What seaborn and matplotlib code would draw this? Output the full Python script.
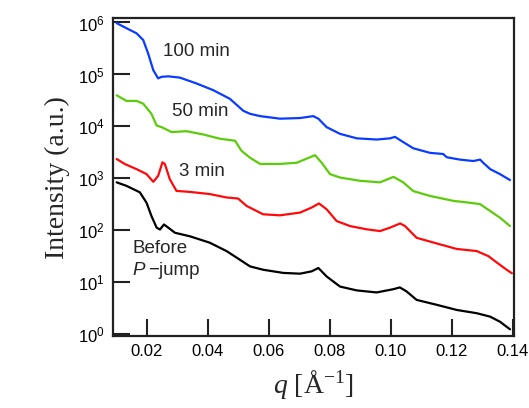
import numpy as np
import pandas as pd
import seaborn as sns
import matplotlib.pyplot as plt
from matplotlib.ticker import LogLocator, FixedLocator, FuncFormatter

# data (q in 1/A, intensity in a.u.)
q_100 = [0.0102, 0.0145, 0.0167, 0.0189, 0.0205, 0.0222, 0.0238, 0.0249, 0.0271, 0.0309,
         0.0364, 0.0418, 0.0473, 0.0517, 0.0539, 0.0572, 0.0637, 0.0703, 0.0746, 0.0763,
         0.0790, 0.0834, 0.0889, 0.0954, 0.0998, 0.1014, 0.1041, 0.1074, 0.1129, 0.1172,
         0.1184, 0.1227, 0.1271, 0.1293, 0.1304, 0.1326, 0.1358, 0.1391]
i_100 = [9.7e5, 7.2e5, 6.2e5, 4.6e5, 2.55e5, 1.21e5, 8.4e4, 9.0e4, 9.2e4, 8.7e4,
         6.7e4, 5.0e4, 3.4e4, 2.0e4, 1.75e4, 1.58e4, 1.41e4, 1.45e4, 1.58e4, 1.41e4,
         9.7e3, 7.2e3, 5.9e3, 5.6e3, 5.9e3, 6.3e3, 5.0e3, 3.8e3, 3.1e3, 2.95e3,
         2.55e3, 2.3e3, 2.16e3, 2.3e3, 1.98e3, 1.51e3, 1.21e3, 9.3e2]

q_50 = [0.0102, 0.0134, 0.0167, 0.0189, 0.0216, 0.0233, 0.0249, 0.0282, 0.0331, 0.0386,
        0.0440, 0.0490, 0.0511, 0.0539, 0.0572, 0.0637, 0.0692, 0.0752, 0.0774, 0.0801,
        0.0834, 0.0899, 0.0965, 0.1009, 0.1041, 0.1074, 0.1129, 0.1205, 0.1260, 0.1293,
        0.1326, 0.1358, 0.1391]
i_50 = [3.97e4, 3.1e4, 3.1e4, 2.74e4, 1.75e4, 1.04e4, 9.7e3, 7.8e3, 8.1e3, 7.0e3,
        5.8e3, 5.3e3, 3.4e3, 2.5e3, 1.9e3, 1.9e3, 2.0e3, 2.8e3, 2.0e3, 1.21e3,
        1.04e3, 9.0e2, 8.4e2, 1.07e3, 8.4e2, 5.7e2, 4.6e2, 3.7e2, 3.4e2, 3.2e2,
        2.36e2, 1.76e2, 1.21e2]

q_3 = [0.0102, 0.0129, 0.0167, 0.0200, 0.0222, 0.0238, 0.0252, 0.0260, 0.0276, 0.0298,
       0.0342, 0.0407, 0.0462, 0.0500, 0.0528, 0.0582, 0.0637, 0.0703, 0.0741, 0.0765,
       0.0790, 0.0823, 0.0867, 0.0921, 0.0965, 0.0998, 0.1031, 0.1047, 0.1085, 0.1151,
       0.1216, 0.1282, 0.1320, 0.1348, 0.1380, 0.1397]
i_3 = [2.36e3, 1.89e3, 1.51e3, 1.21e3, 8.6e2, 1.12e3, 2.04e3, 1.89e3, 9.7e2, 5.75e2,
       5.5e2, 5.0e2, 4.3e2, 4.1e2, 2.95e2, 2.04e2, 1.95e2, 2.2e2, 2.75e2, 3.3e2,
       2.55e2, 1.51e2, 1.21e2, 1.05e2, 97, 1.13e2, 1.36e2, 1.21e2, 72, 56,
       44, 40, 32, 24, 17.5, 15]

q_before = [0.0102, 0.0134, 0.0178, 0.0200, 0.0216, 0.0233, 0.0244, 0.0257, 0.0271, 0.0293,
            0.0342, 0.0407, 0.0462, 0.0495, 0.0539, 0.0582, 0.0648, 0.0703, 0.0741, 0.0763,
            0.0790, 0.0834, 0.0889, 0.0954, 0.1009, 0.1030, 0.1052, 0.1085, 0.1151, 0.1216,
            0.1282, 0.1326, 0.1358, 0.1391]
i_before = [8.4e2, 7.2e2, 5.4e2, 3.4e2, 1.89e2, 1.13e2, 1.04e2, 1.30e2, 1.13e2, 90,
            77, 58, 40, 30, 20.3, 17.5, 15.2, 14.7, 16.3, 18.9,
            13.0, 8.3, 7.0, 6.4, 7.4, 8.0, 6.7, 4.6, 3.7, 2.95,
            2.55, 2.19, 1.75, 1.25]

series = ['100 min', '50 min', '3 min', 'Before']
colors = {'100 min': '#0a3cff', '50 min': '#5ccc0a', '3 min': '#ff0a0a', 'Before': '#000000'}

df = pd.concat([
    pd.DataFrame({'q': q_100, 'I': i_100, 'run': '100 min'}),
    pd.DataFrame({'q': q_50, 'I': i_50, 'run': '50 min'}),
    pd.DataFrame({'q': q_3, 'I': i_3, 'run': '3 min'}),
    pd.DataFrame({'q': q_before, 'I': i_before, 'run': 'Before'}),
], ignore_index=True)

sns.set_style('white')
plt.rcParams['font.family'] = ['Liberation Sans', 'DejaVu Sans']
plt.rcParams['mathtext.fontset'] = 'custom'
plt.rcParams['mathtext.rm'] = 'Liberation Serif'
plt.rcParams['mathtext.it'] = 'Liberation Serif:italic'
plt.rcParams['mathtext.sf'] = 'Liberation Sans'

fig = plt.figure(figsize=(5.29, 4.08), dpi=100)
ax = fig.add_axes([0.2136, 0.1765, 0.758, 0.7785])

sns.lineplot(data=df, x='q', y='I', hue='run', hue_order=series, palette=colors,
             sort=False, estimator=None, linewidth=1.6, legend=False, ax=ax)

ax.set_yscale('log')
ax.set_xlim(0.009, 0.1404)
ax.set_ylim(0.93, 1.2e6)
ax.xaxis.set_major_locator(FixedLocator([0.02, 0.04, 0.06, 0.08, 0.10, 0.12, 0.14]))
ax.xaxis.set_major_formatter(FuncFormatter(lambda v, p: f'{v:.2f}'))
ax.yaxis.set_major_locator(LogLocator(base=10, numticks=10))
ax.yaxis.set_minor_locator(FixedLocator([]))
ax.yaxis.set_major_formatter(FuncFormatter(lambda v, p: r'$\mathsf{10^{%d}}$' % round(np.log10(v))))
ax.tick_params(axis='both', which='major', direction='in', length=12, width=1.5,
               labelsize=12, pad=6, bottom=True, left=True, top=False, right=False,
               colors='#222222', labelcolor='black')
for s in ax.spines.values():
    s.set_linewidth(1.6)
    s.set_color('#222222')

ax.set_ylabel('Intensity (a.u.)', family='Liberation Serif', fontsize=20, labelpad=6)
ax.set_xlabel(r'$q$ [Å$^{\mathrm{-1}}$]', family='Liberation Serif', fontsize=20, labelpad=6)

fs = 13.5
ax.text(0.0254, 10 ** 5.45, '100 min', fontsize=fs, va='center')
ax.text(0.0282, 10 ** 4.28, '50 min', fontsize=fs, va='center')
ax.text(0.0307, 10 ** 3.14, '3 min', fontsize=fs, va='center')
ax.text(0.0154, 10 ** 1.66, 'Before', fontsize=fs, va='center')
p = ax.text(0.0154, 10 ** 1.225, 'P', fontsize=fs, va='center', style='italic')
ax.annotate('\u2212jump', xy=(1, 0), xycoords=p, xytext=(2, 0), textcoords='offset points',
            fontsize=fs, va='bottom')

fig.savefig('out.png', dpi=100, facecolor='white')
